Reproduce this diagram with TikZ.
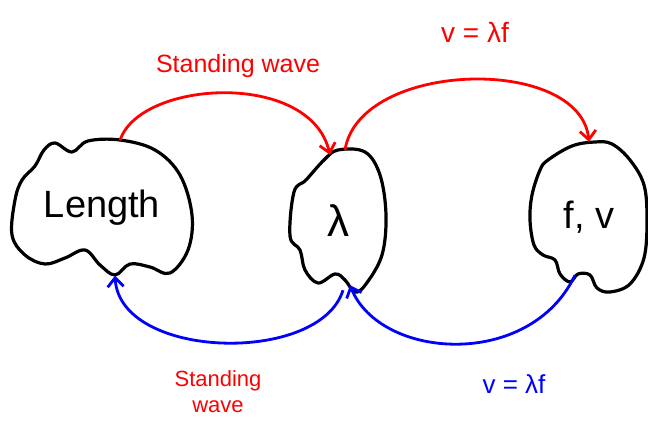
\documentclass[tikz,border=0pt]{standalone}
\usepackage{fontspec}
\setmainfont{Liberation Sans}
\usepackage{xcolor}
\usepackage{tikz}
\usetikzlibrary{arrows.meta,calc}
\definecolor{penred}{HTML}{FF0000}
\definecolor{penblue}{HTML}{0000FF}

\begin{document}
\begin{tikzpicture}[x=1pt,y=-1pt,blob/.style={draw=black,line width=3.2pt,line join=round},every node/.style={inner sep=0pt,align=center},redarrow/.style={-{Straight Barb[length=9pt,width=16pt]},line width=2.8pt,color=penred},bluearrow/.style={-{Straight Barb[length=9pt,width=16pt]},line width=2.8pt,color=penblue}]
\useasboundingbox (0,0) rectangle (648,430);
% blobs
\draw[blob] plot[smooth cycle,tension=0.6] coordinates {(55,143) (72,152) (88,141) (120,140) (155,150) (180,175) (192,215) (188,250) (170,273) (150,267) (130,264) (115,275) (100,265) (85,250) (65,258) (45,264) (25,255) (12,235) (15,200) (22,180) (35,166) (44,150)};
\draw[blob] plot[smooth cycle,tension=0.6] coordinates {(338,150) (365,152) (380,175) (386,215) (382,255) (366,284) (355,292) (345,280) (335,274) (318,283) (305,270) (300,250) (290,236) (294,192) (306,180) (324,160)};
\draw[blob] plot[smooth cycle,tension=0.6] coordinates {(548,160) (572,146) (595,142) (612,144) (630,160) (644,185) (647,220) (644,258) (630,284) (610,292) (597,288) (590,275) (578,274) (570,282) (560,274) (555,260) (543,255) (534,245) (530,220) (532,195) (540,170)};
% nodes
\node (length) [minimum width=180pt,minimum height=135pt,font=\fontsize{38}{40}\selectfont] at (102,208) {Length};
\node (lambda) [minimum width=96pt,minimum height=142pt,font=\fontsize{44}{46}\selectfont] at (338,221) {λ};
\node (fv) [minimum width=118pt,minimum height=150pt,font=\fontsize{38}{40}\selectfont] at (589,217) {f, v};
\node (swtop) [text=penred,font=\fontsize{25}{27}\selectfont] at (238,66) {Standing wave};
\node (vtop) [text=penred,font=\fontsize{28}{30}\selectfont] at (475,32) {v = λf};
\node (vbot) [text=penblue,font=\fontsize{26}{28}\selectfont] at (514,384) {v = λf};
\node (swbot) [text=penred,font=\fontsize{22}{26}\selectfont] at (218,392) {Standing\\wave};
% connectors
\draw[redarrow] ($(length.north)+(18,0)$) .. controls (140,80) and (310,70) .. ($(lambda.north)+(-8,5)$);
\draw[redarrow] ($(lambda.north)+(7,0)$) .. controls (360,60) and (580,55) .. (fv.north);
\draw[bluearrow] ($(fv.south)+(-14,-17)$) .. controls (530,370) and (380,360) .. ($(lambda.south)+(12,-7)$);
\draw[bluearrow] ($(lambda.south)+(5,-2)$) .. controls (320,365) and (120,360) .. ($(length.south)+(13,0)$);
\end{tikzpicture}
\end{document}
